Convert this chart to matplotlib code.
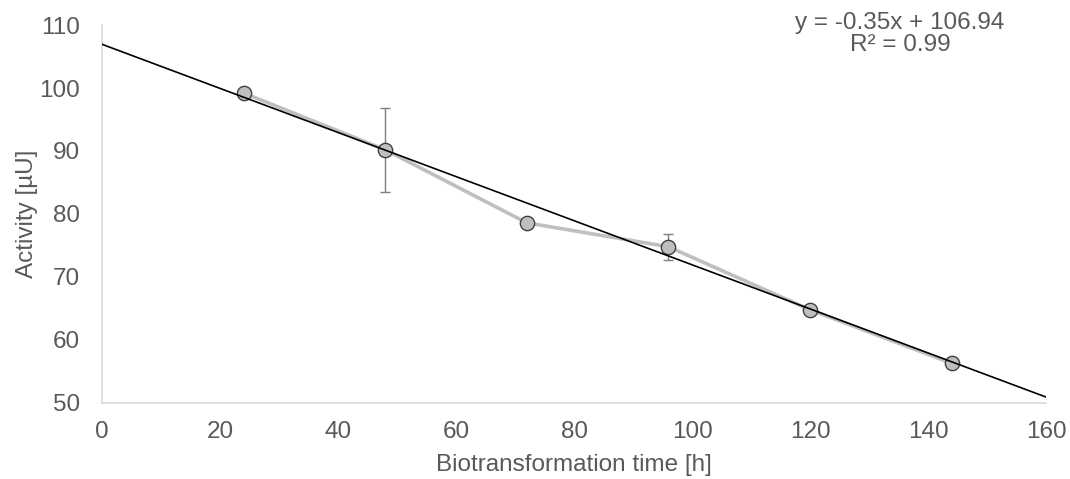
import matplotlib
matplotlib.use("Agg")
import matplotlib.pyplot as plt
import numpy as np

# biotransformation time [h] vs. measured activity [µU]
hours = [24, 48, 72, 96, 120, 144]
activity = [99.2, 90.2, 78.6, 74.8, 64.8, 56.3]
activity_err = [0.0, 6.7, 0.0, 2.1, 0.0, 0.0]

# linear trend as reported
slope = -0.35
intercept = 106.94
r_squared = 0.99

x_ticks = [0, 20, 40, 60, 80, 100, 120, 140, 160]
y_ticks = [50, 60, 70, 80, 90, 100, 110]

TEXT = "#595959"
AXIS = "#D9D9D9"
FS = 17.5

plt.rcParams["font.family"] = ["Liberation Sans", "DejaVu Sans"]

fig = plt.figure(figsize=(10.7, 4.79), dpi=100)
ax = fig.add_axes([0.0953, 0.1587, 0.8823, 0.7891])

ax.plot(hours, activity, color="#BFBFBF", linewidth=2.6, zorder=2)
ax.errorbar(hours, activity, yerr=activity_err, fmt="none",
            ecolor="#7F7F7F", elinewidth=1.0, capsize=3.5, capthick=1.0,
            zorder=3)
ax.plot(hours, activity, linestyle="none", marker="o", markersize=10.3,
        markerfacecolor="#BFBFBF", markeredgecolor="#404040",
        markeredgewidth=1.0, zorder=4)

xs = np.array([x_ticks[0], x_ticks[-1]], dtype=float)
ax.plot(xs, slope * xs + intercept, color="black", linewidth=1.2, zorder=5)

ax.set_xlim(x_ticks[0], x_ticks[-1])
ax.set_ylim(y_ticks[0], y_ticks[-1])
ax.set_xticks(x_ticks)
ax.set_yticks(y_ticks)
ax.tick_params(length=0, labelsize=FS, colors=TEXT)
ax.tick_params(axis="x", pad=13)
ax.tick_params(axis="y", pad=16)

ax.spines[["top", "right"]].set_visible(False)
ax.spines[["left", "bottom"]].set_color(AXIS)
ax.spines[["left", "bottom"]].set_linewidth(1.2)

ax.set_xlabel("Biotransformation time [h]", fontsize=FS, color=TEXT,
              labelpad=8)
ax.set_ylabel("Activity [µU]", fontsize=FS, color=TEXT, labelpad=1)

fig.text(0.841, 0.929, f"y = {slope:.2f}x + {intercept:.2f}\nR² = {r_squared:.2f}",
         ha="center", va="center", fontsize=FS, color=TEXT,
         linespacing=1.05)

fig.savefig("out.png", dpi=100)
